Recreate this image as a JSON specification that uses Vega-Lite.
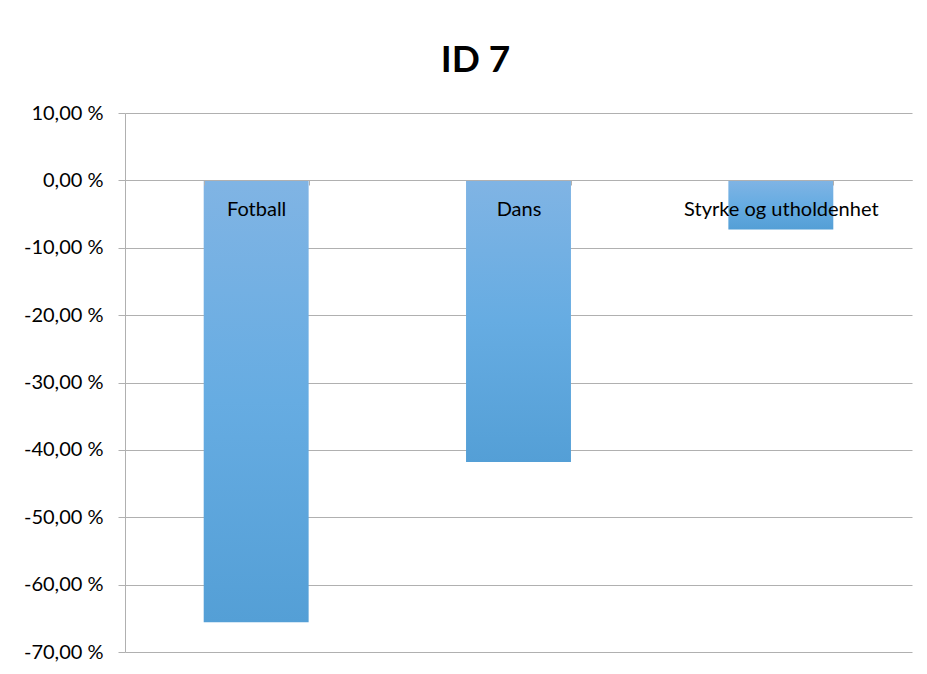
{
  "$schema": "https://vega.github.io/schema/vega-lite/v6.json",
  "width": 787,
  "height": 539,
  "autosize": "none",
  "padding": {"left": 125, "top": 113, "right": 15, "bottom": 22},
  "background": "white",
  "title": {
    "text": "ID 7",
    "font": "Lato",
    "fontSize": 37,
    "fontWeight": "bold",
    "color": "black",
    "anchor": "middle",
    "frame": "group",
    "baseline": "alphabetic",
    "dx": -43,
    "dy": 38,
    "offset": 32
  },
  "data": {
    "values": [
      {"aktivitet": "Fotball", "endring": -65.6},
      {"aktivitet": "Dans", "endring": -41.8},
      {"aktivitet": "Styrke og utholdenhet", "endring": -7.3}
    ]
  },
  "encoding": {
    "x": {
      "field": "aktivitet",
      "type": "nominal",
      "sort": null,
      "scale": {"paddingInner": 0.6, "paddingOuter": 0.3},
      "axis": {
        "title": null,
        "orient": "bottom",
        "offset": -472,
        "zindex": 1,
        "domain": true,
        "domainColor": "#b0b0b0",
        "domainWidth": 1,
        "ticks": true,
        "tickBand": "extent",
        "tickColor": "#b0b0b0",
        "tickSize": 5,
        "labelAngle": 0,
        "labelFont": "Lato",
        "labelFontSize": 20,
        "labelLimit": 0,
        "labelColor": "black",
        "labelPadding": 14
      }
    }
  },
  "layer": [
    {
      "mark": {
        "type": "bar",
        "color": {
          "gradient": "linear",
          "x1": 0, "y1": 0, "x2": 0, "y2": 1,
          "stops": [
            {"offset": 0, "color": "#80b4e4"},
            {"offset": 0.5, "color": "#66ace2"},
            {"offset": 1, "color": "#549fd6"}
          ]
        }
      },
      "encoding": {
        "y": {
          "field": "endring",
          "type": "quantitative",
          "scale": {"domain": [-70, 10], "nice": false, "zero": false},
          "axis": {
            "title": null,
            "values": [-70, -60, -50, -40, -30, -20, -10, 0, 10],
            "grid": true,
            "gridColor": "#b0b0b0",
            "gridWidth": 1,
            "domain": true,
            "domainColor": "#b0b0b0",
            "ticks": true,
            "tickColor": "#b0b0b0",
            "tickSize": 7,
            "labelPadding": 15,
            "labelFont": "Lato",
            "labelFontSize": 20,
            "labelLimit": 0,
            "labelColor": "black",
            "labelExpr": "(datum.value < 0 ? '-' : '') + replace(format(abs(datum.value), '.2f'), '.', ',') + ' %'"
          }
        },
        "y2": {"datum": 0}
      }
    }
  ],
  "config": {"view": {"stroke": null}}
}
